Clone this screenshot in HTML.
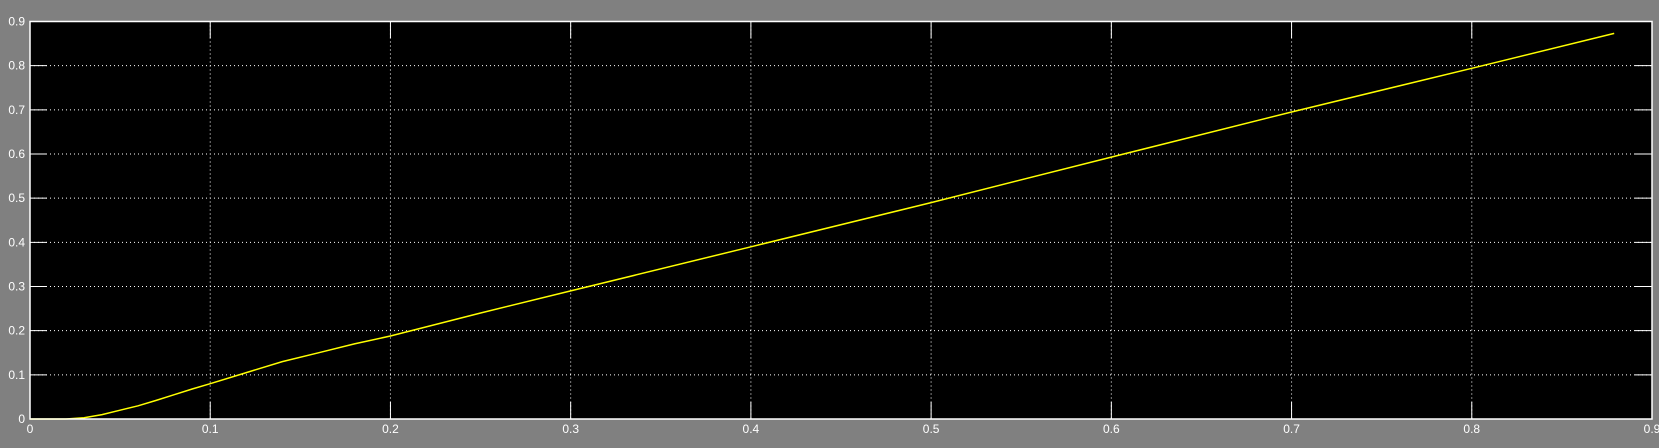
<!DOCTYPE html>
<html><head><meta charset="utf-8"><style>
html,body{margin:0;padding:0;background:#808080;}
svg{display:block;}
text{font-family:"Liberation Sans",sans-serif;font-size:12px;fill:#fff;}
</style></head><body>
<svg id="chart" width="1659" height="448" xmlns="http://www.w3.org/2000/svg">
<rect x="0" y="0" width="1659" height="448" fill="#808080"/>
<rect x="30" y="21.5" width="1622" height="397.5" fill="#000"/>
<g id="grid"></g>
<g id="series"></g>
<rect x="30" y="21.5" width="1622" height="397.5" fill="none" stroke="#fff" stroke-width="1.5"/>
<g id="labels"></g>
</svg>
<script>
const xTicks=[0,0.1,0.2,0.3,0.4,0.5,0.6,0.7,0.8,0.9];
const yTicks=[0,0.1,0.2,0.3,0.4,0.5,0.6,0.7,0.8,0.9];
const xTickLabels=["0","0.1","0.2","0.3","0.4","0.5","0.6","0.7","0.8","0.9"];
const yTickLabels=["0","0.1","0.2","0.3","0.4","0.5","0.6","0.7","0.8","0.9"];
const seriesX=[0,0.02,0.03,0.04,0.05,0.06,0.07,0.08,0.09,0.1,0.12,0.14,0.16,0.18,0.2,0.25,0.3,0.4,0.5,0.6,0.7,0.8,0.879];
const seriesY=[0,0,0.003,0.01,0.02,0.03,0.042,0.055,0.068,0.08,0.105,0.13,0.15,0.17,0.188,0.24,0.29,0.39,0.49,0.593,0.695,0.794,0.873];
const L=30,R=1652,T=21.5,B=419;
const sx=v=>L+v/0.9*(R-L);
const sy=v=>B-v/0.9*(B-T);
const NS="http://www.w3.org/2000/svg";
const grid=document.getElementById('grid'),lab=document.getElementById('labels'),ser=document.getElementById('series');
function mk(tag,attrs,parent){const e=document.createElementNS(NS,tag);for(const k in attrs)e.setAttribute(k,attrs[k]);parent.appendChild(e);return e;}
xTicks.forEach((v,i)=>{
  const x=sx(v);
  if(i>0&&i<xTicks.length-1){
    const g=mk('line',{x1:x,x2:x,y1:T,y2:B,stroke:'#fff','stroke-width':1,'stroke-dasharray':'1 3'},grid);
    
    
    const t1=mk('line',{x1:x,x2:x,y1:T,y2:T+17,stroke:'#fff','stroke-width':1},grid);
    
    
    const t2=mk('line',{x1:x,x2:x,y1:B-17,y2:B,stroke:'#fff','stroke-width':1},grid);
    
    
  }
  const t=mk('text',{x:x,y:433,'text-anchor':'middle'},lab);
  t.textContent=xTickLabels[i];
  
  
});
yTicks.forEach((v,i)=>{
  const y=sy(v);
  if(i>0&&i<yTicks.length-1){
    const g=mk('line',{x1:L,x2:R,y1:y,y2:y,stroke:'#fff','stroke-width':1,'stroke-dasharray':'1 3'},grid);
    
    
    const t1=mk('line',{x1:L,x2:L+17,y1:y,y2:y,stroke:'#fff','stroke-width':1},grid);
    
    
    const t2=mk('line',{x1:R-17,x2:R,y1:y,y2:y,stroke:'#fff','stroke-width':1},grid);
    
    
  }
  const t=mk('text',{x:25,y:y+4,'text-anchor':'end'},lab);
  t.textContent=yTickLabels[i];
  
  
});
const pts=seriesX.map((v,i)=>sx(v).toFixed(1)+','+sy(seriesY[i]).toFixed(1)).join(' ');
const pl=mk('polyline',{points:pts,fill:'none',stroke:'#ffff00','stroke-width':1.5},ser);


</script>
</body></html>
